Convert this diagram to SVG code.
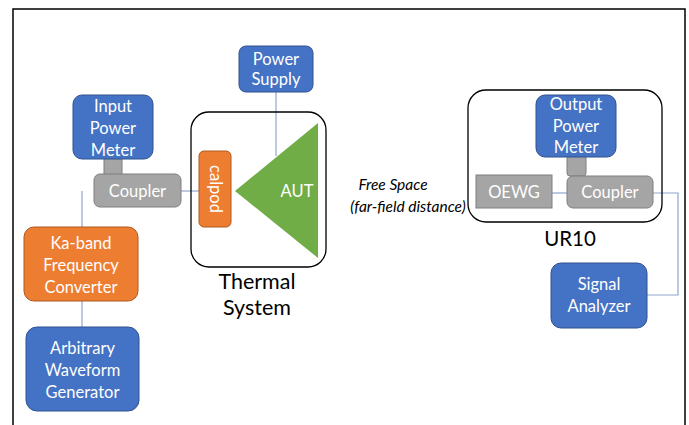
<svg xmlns="http://www.w3.org/2000/svg" width="689" height="425" viewBox="0 0 689 425">
<style>
text{font-family:Lato,"Liberation Sans",sans-serif;text-anchor:middle}
.w{fill:#fff;font-size:16.5px}
.blue{fill:#4472C4;stroke:#2F528F;stroke-width:1}
.orange{fill:#ED7D31;stroke:#AE5A21;stroke-width:1}
.grey{fill:#A5A5A5;stroke:#7F7F7F;stroke-width:1}
.cont{fill:none;stroke:#000;stroke-width:1.3}
.lbl{fill:#000;font-size:21.5px}
.it{fill:#000;font-size:15.5px;font-style:italic}
.conn{fill:none;stroke:#8FA5CC;stroke-width:1.2}
</style>
<rect width="689" height="425" fill="#fff"/>
<path d="M13,425 V9 H685 V425" fill="none" stroke="#000" stroke-width="1.5"/>
<g id="connectors">
<path class="conn" d="M82,191 V227"/>
<path class="conn" d="M82,301 V327"/>
<path class="conn" d="M181,191 H199"/>
<path class="conn" d="M276,92 V156" stroke="#5B7DB8"/>
<path class="conn" d="M552,193 H567"/>
<path class="conn" d="M653,193 H678 V295 H647"/>
</g>
<g id="thermal-system">
<rect class="cont" x="191" y="112" width="135" height="155" rx="18"/>
<text class="lbl" x="257" y="289">Thermal</text>
<text class="lbl" x="257" y="315">System</text>
</g>
<g id="ur10">
<rect class="cont" x="468" y="90" width="194" height="132" rx="18"/>
<text class="lbl" x="570" y="246" style="font-size:20.5px">UR10</text>
</g>
<g id="power-supply">
<rect class="blue" x="239" y="46" width="74" height="46" rx="7"/>
<text class="w" x="276" y="65">Power</text>
<text class="w" x="276" y="85">Supply</text>
</g>
<g id="input-power-meter">
<rect class="grey" x="104" y="158" width="18" height="17"/>
<rect class="blue" x="73" y="95" width="80" height="64" rx="9"/>
<text class="w" x="113" y="112">Input</text>
<text class="w" x="113" y="134">Power</text>
<text class="w" x="113" y="156">Meter</text>
</g>
<g id="coupler-left">
<rect class="grey" x="94" y="174" width="87" height="33" rx="6"/>
<text class="w" x="137.5" y="197">Coupler</text>
</g>
<g id="calpod">
<rect class="orange" x="199" y="151" width="32" height="76" rx="5"/>
<text class="w" transform="translate(209.5,189) rotate(90)">calpod</text>
</g>
<g id="aut">
<polygon points="235,191 318,123 318,258" fill="#70AD47"/>
<text class="w" x="297" y="197">AUT</text>
</g>
<g id="ka-band">
<rect class="orange" x="24" y="227" width="114" height="74" rx="10"/>
<text class="w" x="81" y="249">Ka-band</text>
<text class="w" x="81" y="271">Frequency</text>
<text class="w" x="81" y="293">Converter</text>
</g>
<g id="awg">
<rect class="blue" x="26" y="327" width="113" height="84" rx="11"/>
<text class="w" x="82.5" y="354">Arbitrary</text>
<text class="w" x="82.5" y="376">Waveform</text>
<text class="w" x="82.5" y="398">Generator</text>
</g>
<g id="free-space">
<text class="it" x="393" y="190">Free Space</text>
<text class="it" x="408" y="212">(far-field distance)</text>
</g>
<g id="output-power-meter">
<rect class="grey" x="567" y="155" width="19" height="21" rx="3"/>
<rect class="blue" x="536" y="95" width="80" height="62" rx="9"/>
<text class="w" x="576" y="110">Output</text>
<text class="w" x="576" y="132">Power</text>
<text class="w" x="576" y="153">Meter</text>
</g>
<g id="oewg">
<rect class="grey" x="476" y="175" width="76" height="33"/>
<text class="w" x="514" y="198">OEWG</text>
</g>
<g id="coupler-right">
<rect class="grey" x="567" y="176" width="86" height="32" rx="6"/>
<text class="w" x="610" y="198">Coupler</text>
</g>
<g id="signal-analyzer">
<rect class="blue" x="551" y="263" width="96" height="65" rx="10"/>
<text class="w" x="599" y="290">Signal</text>
<text class="w" x="599" y="312">Analyzer</text>
</g>
</svg>
